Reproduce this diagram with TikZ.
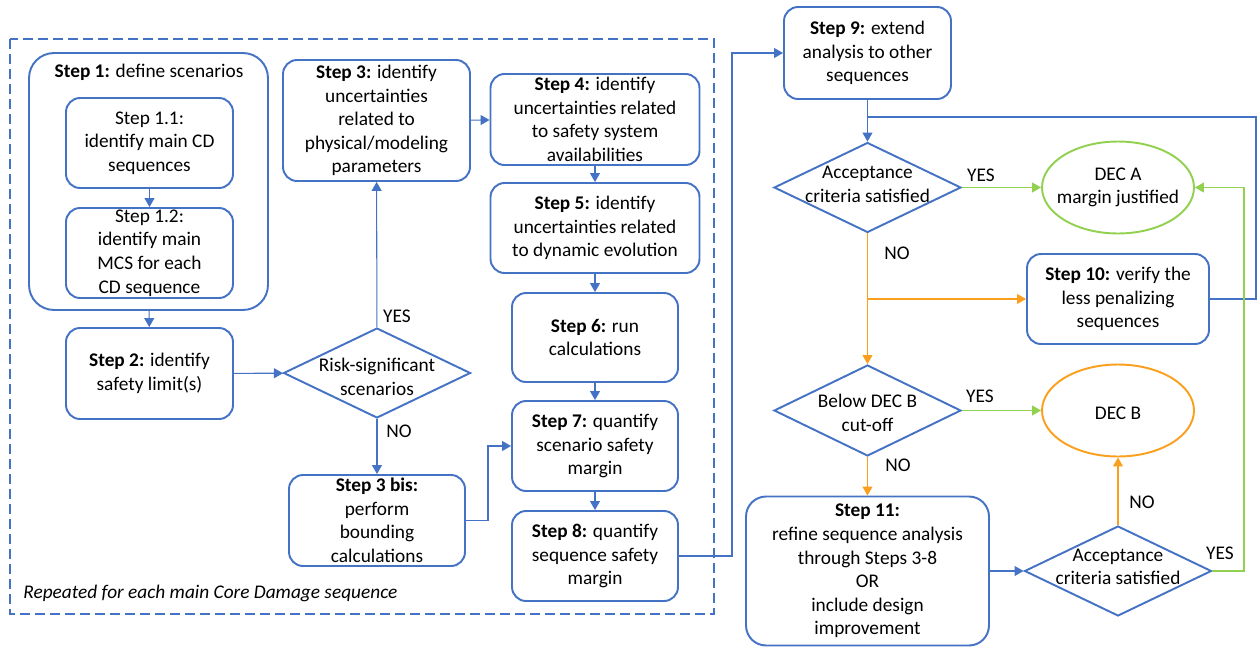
\documentclass[tikz,border=0pt]{standalone}
\usepackage{fontspec}
\setmainfont{Carlito}
\usepackage{xcolor}
\usepackage{tikz}
\usetikzlibrary{arrows.meta,shapes.geometric}
\definecolor{stepblue}{RGB}{68,114,196}
\definecolor{decgreen}{RGB}{146,208,80}
\definecolor{decorange}{RGB}{250,160,30}
\tikzstyle{stepbox}=[rectangle,rounded corners=0.28cm,draw=stepblue,line width=1.1pt,align=center,inner sep=0pt]
\tikzstyle{decision}=[diamond,draw=stepblue,line width=1.1pt,inner sep=0pt,minimum width=3.74cm,minimum height=1.8cm]
\tikzstyle{outcome}=[ellipse,line width=1.1pt,inner sep=0pt,minimum width=3.04cm,minimum height=1.84cm]
\tikzstyle{flow}=[-{Triangle[length=0.18cm,width=0.2cm]},draw=stepblue,line width=0.6pt]
\tikzstyle{yesflow}=[flow,draw=decgreen]
\tikzstyle{noflow}=[flow,draw=decorange]
\tikzstyle{link}=[draw=stepblue,line width=0.6pt]
\tikzstyle{answer}=[inner sep=0pt]

\begin{document}
\fontsize{11pt}{13.4pt}\selectfont
\begin{tikzpicture}[x=0.02cm,y=-0.02cm]
        \useasboundingbox (0,0) rectangle (1258,646);

        % repeated part
        \draw [stepblue,line width=1.1pt,dash pattern=on 0.2cm off 0.1cm] (10,39) rectangle (714,614);
        \node at (23,593) [anchor=west,inner sep=0pt] (rep) {\itshape Repeated for each main Core Damage sequence};

        \node at (148.5,181.5) [stepbox,rounded corners=0.5cm,minimum width=4.78cm,minimum height=5.14cm] (s1) {};
        \node at (149,72) [answer] (s1title) {\textbf{Step 1:} define scenarios};
        \node at (149.5,143) [stepbox,minimum width=3.34cm,minimum height=1.8cm] (s1a) {Step 1.1:\\identify main CD\\sequences};
        \node at (149.5,253) [stepbox,minimum width=3.34cm,minimum height=1.8cm] (s1b) {Step 1.2:\\identify main\\MCS for each\\CD sequence};
        \node at (149.5,373.5) [stepbox,minimum width=3.34cm,minimum height=1.82cm] (s2) {\textbf{Step 2:} identify\\safety limit(s)};
        \node at (377,373) [decision,label={[align=center,yshift=-2.3pt]center:Risk-significant\\scenarios}] (risk) {};
        \node at (376.5,120.5) [stepbox,minimum width=3.74cm,minimum height=2.42cm] (s3) {\textbf{Step 3:} identify\\uncertainties\\related to\\physical/modeling\\parameters};
        \node at (377,520.5) [stepbox,minimum width=3.52cm,minimum height=1.82cm] (s3b) {\textbf{Step 3 bis:}\\perform\\bounding\\calculations};
        \node at (595,119.5) [stepbox,minimum width=4.18cm,minimum height=1.82cm] (s4) {\textbf{Step 4:} identify\\uncertainties related\\to safety system\\availabilities};
        \node at (595,228) [stepbox,minimum width=4.18cm,minimum height=1.8cm] (s5) {\textbf{Step 5:} identify\\uncertainties related\\to dynamic evolution};
        \node at (595,337.5) [stepbox,minimum width=3.32cm,minimum height=1.78cm] (s6) {\textbf{Step 6:} run\\calculations};
        \node at (595,446) [stepbox,minimum width=3.32cm,minimum height=1.8cm] (s7) {\textbf{Step 7:} quantify\\scenario safety\\margin};
        \node at (595,556) [stepbox,minimum width=3.32cm,minimum height=1.8cm] (s8) {\textbf{Step 8:} quantify\\sequence safety\\margin};

        % decisions on the sequences
        \node at (867.5,53) [stepbox,minimum width=3.34cm,minimum height=1.84cm] (s9) {\textbf{Step 9:} extend\\analysis to other\\sequences};
        \node at (867.5,187.5) [decision,label={[align=center,yshift=1.7pt]center:Acceptance\\criteria satisfied}] (acc1) {};
        \node at (1118,187.5) [outcome,draw=decgreen,label={[align=center]center:DEC A\\margin justified}] (decA) {};
        \node at (1118,299) [stepbox,minimum width=3.64cm,minimum height=1.8cm] (s10) {\textbf{Step 10:} verify the\\less penalizing\\sequences};
        \node at (867.5,410.5) [decision,minimum height=1.82cm,label={[align=center,yshift=-1.4pt]center:Below DEC B\\cut-off}] (below) {};
        \node at (1118,410.5) [outcome,draw=decorange,label={[yshift=-1.5pt]center:DEC B}] (decB) {};
        \node at (867.5,571) [stepbox,rounded corners=0.4cm,minimum width=4.86cm,minimum height=2.98cm] (s11) {\textbf{Step 11:}\\refine sequence analysis\\through Steps 3-8\\OR\\include design\\improvement};
        \node at (1118,571) [decision,label={[align=center,yshift=2.3pt]center:Acceptance\\criteria satisfied}] (acc2) {};

        \node at (397,316) [answer] (yes1) {YES};
        \node at (399,431) [answer] (no1) {NO};
        \node at (981,175) [answer] (yes2) {YES};
        \node at (897,253) [answer] (no2) {NO};
        \node at (980,396) [answer] (yes3) {YES};
        \node at (898,465) [answer] (no3) {NO};
        \node at (1142,502) [answer] (no4) {NO};
        \node at (1220,553) [answer] (yes4) {YES};

        \coordinate (c3b) at (488,520.5);
        \coordinate (c8) at (732,556);
        \coordinate (join) at (867.5,117);
        \coordinate (fork) at (867.5,299);
        \coordinate (c10) at (1256,299);
        \coordinate (c12) at (1244,571);

        \draw [flow] (s1a) -- (s1b);
        \draw [flow] (s1) -- (s2);
        \draw [flow] (s2) -- (risk);
        \draw [flow] (risk) -- (s3);
        \draw [flow] (risk) -- (s3b);
        \draw [flow] (s3b) -- (c3b) |- (s7);
        \draw [flow] (s3) -- (s4);
        \draw [flow] (s4) -- (s5);
        \draw [flow] (s5) -- (s6);
        \draw [flow] (s6) -- (s7);
        \draw [flow] (s7) -- (s8);
        \draw [flow] (s8) -- (c8) |- (s9);
        \draw [flow] (s9) -- (acc1);
        \draw [yesflow] (acc1) -- (decA);
        \draw [noflow] (acc1) -- (below);
        \draw [noflow] (fork) -- (s10);
        \draw [link] (s10) -- (c10) |- (join);
        \draw [yesflow] (below) -- (decB);
        \draw [noflow] (below) -- (s11);
        \draw [flow] (s11) -- (acc2);
        \draw [noflow] (acc2) -- (decB);
        \draw [yesflow] (acc2) -- (c12) |- (decA);
      \end{tikzpicture}
\end{document}
